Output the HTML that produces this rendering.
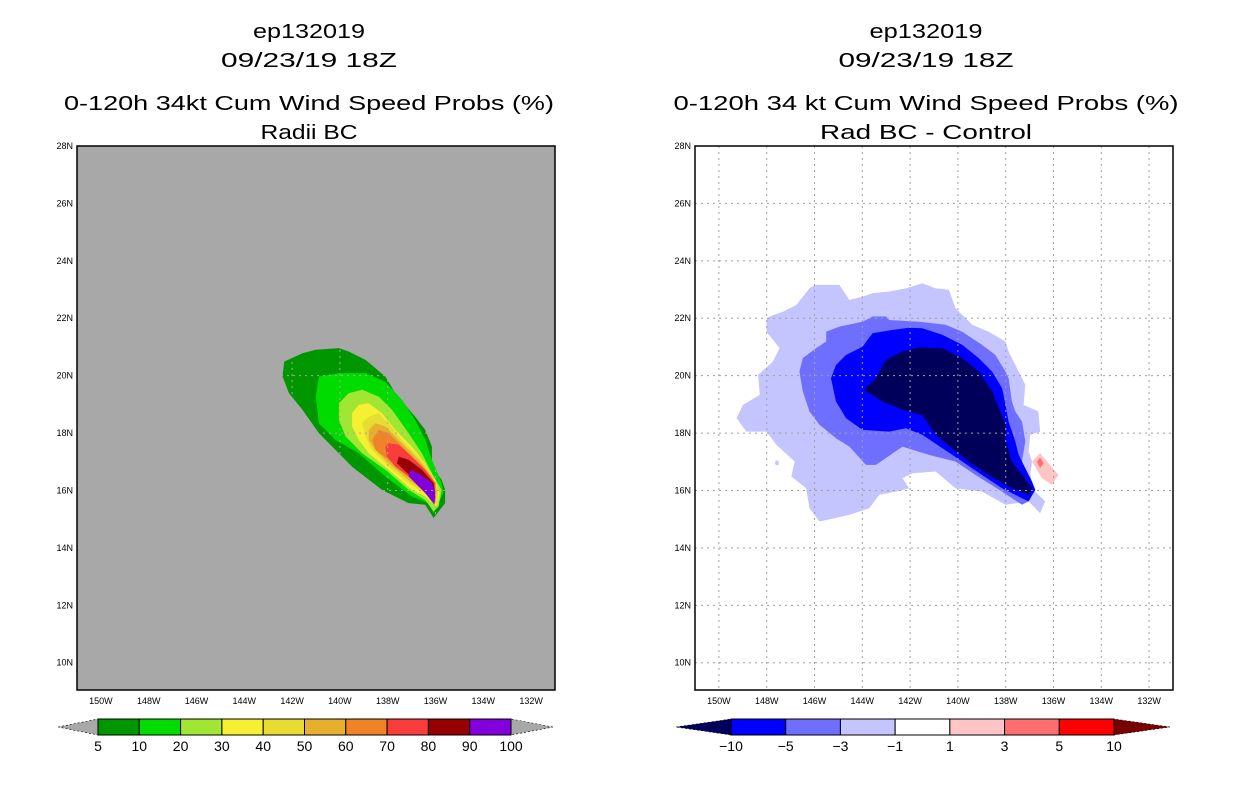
<!DOCTYPE html>
<html><head><meta charset="utf-8"><style>
html,body{margin:0;padding:0;background:#fff;}
svg{display:block;font-family:"Liberation Sans",sans-serif;}
</style></head><body>
<svg id="chart" width="1236" height="800" viewBox="0 0 1236 800" xmlns="http://www.w3.org/2000/svg"></svg>
<script>
// ---- data ----
const lonTicks=[-150,-148,-146,-144,-142,-140,-138,-136,-134,-132];
const lonTickLabels=["150W","148W","146W","144W","142W","140W","138W","136W","134W","132W"];
const latTicks=[10,12,14,16,18,20,22,24,26,28];
const latTickLabels=["10N","12N","14N","16N","18N","20N","22N","24N","26N","28N"];
const leftLevels=["5","10","20","30","40","50","60","70","80","90","100"];
const leftColors=["#009600","#00dc00","#a0e632","#f5f032","#e6dc32","#e6af2d","#f08228","#fa3c3c","#960000","#8200dc"];
const rightLevels=["\u221210","\u22125","\u22123","\u22121","1","3","5","10"];
const rightColors=["#00005a","#0000ff","#6e6eff","#c4c4ff","#ffffff","#ffc4c4","#ff6e6e","#ff0000","#780000"];
// left contours [lon,lat]
const p05=[[-142.33,20.49],[-141.57,20.78],[-141.01,20.90],[-140.04,20.96],[-139.63,20.84],[-138.93,20.55],[-138.10,19.97],[-137.68,19.39],[-136.85,18.57],[-136.43,18.11],[-136.15,17.53],[-136.15,16.83],[-135.74,16.37],[-135.60,16.02],[-135.60,15.56],[-136.08,15.04],[-136.43,15.50],[-137.13,15.56],[-138.24,16.02],[-139.49,16.83],[-140.88,18.00],[-141.57,18.81],[-142.13,19.39],[-142.40,19.97]];
const p10=[[-140.875,19.97],[-140.04,20.09],[-138.93,20.09],[-138.10,19.79],[-137.40,19.16],[-136.85,18.46],[-136.43,17.76],[-136.15,17.07],[-135.74,16.26],[-135.67,15.91],[-136.01,15.33],[-136.08,15.21],[-136.29,15.56],[-136.99,15.79],[-138.10,16.49],[-139.21,17.30],[-140.18,17.76],[-140.875,18.34],[-141.01,19.27]];
const p20=[[-140.04,19.04],[-139.63,19.39],[-139.07,19.51],[-138.375,19.27],[-137.82,18.81],[-137.125,18.00],[-136.57,17.30],[-136.15,16.60],[-135.74,16.02],[-135.875,15.44],[-136.08,15.27],[-136.43,15.67],[-137.125,16.02],[-138.10,16.72],[-139.07,17.30],[-139.76,17.88],[-140.04,18.46]];
const p30=[[-139.49,18.69],[-139.21,18.98],[-138.79,19.04],[-138.24,18.69],[-137.68,18.11],[-136.99,17.53],[-136.43,16.95],[-136.01,16.37],[-135.81,15.91],[-135.95,15.44],[-136.43,15.79],[-136.99,16.02],[-137.96,16.72],[-138.79,17.30],[-139.21,17.76],[-139.49,18.23]];
const p40=[[-139.07,18.34],[-138.79,18.57],[-138.375,18.69],[-137.96,18.34],[-137.40,17.76],[-136.71,17.18],[-136.15,16.60],[-135.875,16.02],[-135.95,15.50],[-136.43,15.91],[-137.125,16.26],[-137.96,16.83],[-138.65,17.41],[-138.93,17.88]];
const p50=[[-138.79,18.11],[-138.51,18.34],[-138.10,18.23],[-137.40,17.65],[-136.71,17.07],[-136.15,16.49],[-135.95,16.02],[-136.01,15.56],[-136.43,15.96],[-137.125,16.37],[-137.96,16.95],[-138.51,17.41],[-138.79,17.76]];
const p60=[[-138.65,17.76],[-138.375,18.11],[-137.96,18.00],[-137.26,17.41],[-136.57,16.83],[-136.01,16.26],[-136.01,15.67],[-136.43,16.02],[-137.125,16.49],[-137.96,17.07],[-138.51,17.41]];
const p70=[[-138.10,17.53],[-137.96,17.65],[-137.54,17.59],[-136.99,17.18],[-136.43,16.72],[-136.01,16.26],[-136.01,15.67],[-136.57,16.14],[-137.125,16.49],[-137.68,16.83],[-138.03,17.18]];
const p80=[[-137.54,17.18],[-137.125,17.07],[-136.57,16.72],[-136.08,16.26],[-136.01,15.79],[-136.43,16.02],[-136.85,16.37],[-137.26,16.66],[-137.61,16.95]];
const p90=[[-137.05,16.72],[-136.71,16.60],[-136.15,16.26],[-136.01,15.91],[-136.04,15.50],[-136.43,15.91],[-136.85,16.26],[-137.125,16.49]];
// right contours
const m1=[[-148.01,21.98],[-147.88,22.06],[-147.32,22.23],[-146.76,22.46],[-146.21,23.04],[-146.00,23.16],[-144.96,23.16],[-144.54,22.64],[-143.99,22.75],[-143.57,22.87],[-142.88,22.93],[-142.18,23.04],[-141.49,23.22],[-140.93,23.04],[-140.38,22.99],[-140.10,22.35],[-139.40,21.77],[-138.71,21.53],[-138.01,21.19],[-137.88,20.84],[-137.60,20.37],[-137.18,19.68],[-137.25,18.98],[-136.63,18.75],[-136.56,18.05],[-136.97,17.94],[-137.04,17.36],[-136.90,17.01],[-136.97,16.54],[-136.76,15.96],[-136.35,15.62],[-136.56,15.21],[-137.04,15.62],[-138.01,15.50],[-138.99,15.96],[-140.10,16.08],[-140.93,16.66],[-141.90,16.60],[-142.32,16.43],[-142.04,16.08],[-142.60,15.96],[-143.29,15.85],[-143.71,15.38],[-144.54,15.15],[-145.79,14.92],[-146.21,15.38],[-146.35,16.08],[-146.97,16.49],[-146.83,17.01],[-147.60,17.59],[-148.01,18.05],[-148.85,18.05],[-149.26,18.52],[-148.99,18.98],[-148.29,19.33],[-148.36,20.03],[-147.74,20.49],[-147.46,20.96],[-148.01,21.53]];
const m1b=[[-147.62,17.06],[-147.48,17.0],[-147.53,16.86],[-147.66,16.92]];
const m3=[[-146.63,20.14],[-146.49,20.61],[-145.93,20.96],[-145.51,21.19],[-145.51,21.53],[-144.96,21.71],[-143.99,21.88],[-143.57,22.06],[-143.01,22.06],[-142.88,21.94],[-141.63,21.88],[-140.51,21.77],[-139.82,21.53],[-138.99,21.07],[-138.43,20.72],[-138.01,20.14],[-137.88,19.91],[-137.74,19.10],[-137.60,18.75],[-137.32,18.40],[-137.18,17.71],[-137.32,17.01],[-136.90,16.08],[-137.04,15.62],[-137.32,15.50],[-138.15,15.96],[-139.26,16.54],[-140.10,17.01],[-141.21,17.24],[-142.32,17.53],[-143.43,16.89],[-143.85,16.89],[-144.54,17.53],[-145.10,17.82],[-145.79,18.29],[-146.21,18.75],[-146.49,19.45]];
const m5=[[-145.31,19.91],[-145.10,20.37],[-144.68,20.72],[-143.99,21.01],[-143.57,21.48],[-142.74,21.59],[-142.04,21.67],[-141.49,21.65],[-140.65,21.42],[-139.82,21.07],[-139.13,20.61],[-138.57,20.14],[-138.15,19.56],[-138.01,18.98],[-137.88,18.40],[-137.60,17.71],[-137.46,17.24],[-137.18,16.78],[-136.90,16.31],[-136.76,16.02],[-137.04,15.62],[-137.32,15.73],[-138.15,16.08],[-138.99,16.54],[-139.82,17.01],[-140.65,17.47],[-141.49,17.94],[-142.18,18.17],[-142.88,18.05],[-143.99,18.11],[-144.68,18.52],[-145.10,19.10]];
const m10=[[-143.92,19.50],[-143.43,19.91],[-143.01,20.55],[-142.32,20.84],[-141.63,20.98],[-140.65,20.95],[-139.82,20.61],[-139.13,20.14],[-138.57,19.45],[-138.29,18.87],[-138.01,18.29],[-138.01,17.71],[-137.74,17.01],[-137.32,16.54],[-136.90,16.08],[-137.04,15.85],[-137.74,16.08],[-138.71,16.54],[-139.54,17.01],[-140.24,17.47],[-140.93,17.94],[-141.49,18.63],[-142.32,18.81],[-143.15,19.10]];
const q1=[[-136.90,17.01],[-136.56,17.30],[-135.79,16.54],[-136.07,16.20],[-136.49,16.43]];
const q3=[[-136.69,17.01],[-136.56,17.15],[-136.42,16.95],[-136.56,16.78]];

const NS="http://www.w3.org/2000/svg";
const svg=document.getElementById('chart');
function el(tag,attrs,parent){const e=document.createElementNS(NS,tag);for(const k in attrs)e.setAttribute(k,attrs[k]);(parent||svg).appendChild(e);return e;}
function txt(s,attrs,parent){const t=el('text',attrs,parent);t.textContent=s;return t;}

const LON0=-151,LON1=-131,LAT0=9.05,LAT1=28;
function makePanel(x0,name){
  const W=478,H=544,y0=146;
  return {x0,y0,W,H,name,
    x:lon=>x0+(lon-LON0)/(LON1-LON0)*W,
    y:lat=>y0+(LAT1-lat)/(LAT1-LAT0)*H};
}
const L=makePanel(77,'left'),R=makePanel(695,'right');

function titles(cx,lines,names){
  const ys=[38,67,110,139];
  lines.forEach((s,i)=>{
    const t=txt(s[0],{x:cx,y:ys[i],'text-anchor':'middle','font-size':20,textLength:s[1],lengthAdjust:'spacingAndGlyphs',fill:'#000'});
    
    
  });
}
titles(309,[["ep132019",112],["09/23/19 18Z",176],["0-120h 34kt Cum Wind Speed Probs (%)",490],["Radii BC",97]],['left-storm-id','left-date','left-title','left-subtitle']);
titles(926,[["ep132019",113],["09/23/19 18Z",175],["0-120h 34 kt Cum Wind Speed Probs (%)",505],["Rad BC - Control",212]],['right-storm-id','right-date','right-title','right-subtitle']);

function drawPanel(P,bg,polys,gridColor){
  const g=el('g',{});
  
  
  const cid='clip-'+P.name;
  const cp=el('clipPath',{id:cid},el('defs',{},g));
  el('rect',{x:P.x0,y:P.y0,width:P.W,height:P.H},cp);
  const bgr=el('rect',{x:P.x0,y:P.y0,width:P.W,height:P.H,fill:bg},g);
  
  
  const cg=el('g',{'clip-path':'url(#'+cid+')'},g);
  polys.forEach(([pts,col,nm])=>{
    const p=el('polygon',{points:pts.map(q=>P.x(q[0]).toFixed(1)+','+P.y(q[1]).toFixed(1)).join(' '),fill:col},cg);
    
    
  });
  lonTicks.forEach((lon,i)=>{
    const ln=el('line',{x1:P.x(lon),x2:P.x(lon),y1:P.y0,y2:P.y0+P.H,stroke:gridColor,'stroke-width':1,'stroke-dasharray':'2,4'},cg);
    
    
    const t=txt(lonTickLabels[i],{x:P.x(lon),y:P.y0+P.H+14,'text-anchor':'middle','font-size':9,fill:'#000'},g);
    
    
  });
  latTicks.forEach((lat,i)=>{
    const ln=el('line',{x1:P.x0,x2:P.x0+P.W,y1:P.y(lat),y2:P.y(lat),stroke:gridColor,'stroke-width':1,'stroke-dasharray':'2,4'},cg);
    
    
    const t=txt(latTickLabels[i],{x:P.x0-4,y:P.y(lat)+3,'text-anchor':'end','font-size':9,fill:'#000'},g);
    
    
  });
  const fr=el('rect',{x:P.x0,y:P.y0,width:P.W,height:P.H,fill:'none',stroke:'#000','stroke-width':1.5},g);
  
  
}
drawPanel(L,'#a8a8a8',[[p05,leftColors[0],'contour-5'],[p10,leftColors[1],'contour-10'],[p20,leftColors[2],'contour-20'],[p30,leftColors[3],'contour-30'],[p40,leftColors[4],'contour-40'],[p50,leftColors[5],'contour-50'],[p60,leftColors[6],'contour-60'],[p70,leftColors[7],'contour-70'],[p80,leftColors[8],'contour-80'],[p90,leftColors[9],'contour-90']],'#a8a8a8');
drawPanel(R,'#ffffff',[[m1,rightColors[3],'contour-neg1'],[m1b,rightColors[3],'contour-neg1-speck'],[m3,rightColors[2],'contour-neg3'],[m5,rightColors[1],'contour-neg5'],[m10,rightColors[0],'contour-neg10'],[q1,rightColors[5],'contour-pos1'],[q3,rightColors[6],'contour-pos3']],'#a0a0a0');

// colorbars
function colorbar(x0,x1,bx0,bx1,colors,labels,leftArrow,rightArrow,name,labelOffset){
  const g=el('g',{});
  
  
  const yt=719,yb=735,ym=727;
  const a1=el('polygon',{points:`${x0},${ym} ${bx0},${yt} ${bx0},${yb}`,fill:leftArrow,stroke:'#000','stroke-width':0.6,'stroke-dasharray':'2,2'},g);
  
  const a2=el('polygon',{points:`${x1},${ym} ${bx1},${yt} ${bx1},${yb}`,fill:rightArrow,stroke:'#000','stroke-width':0.6,'stroke-dasharray':'2,2'},g);
  
  const n=colors.length,w=(bx1-bx0)/n;
  colors.forEach((c,i)=>{
    const r=el('rect',{x:bx0+i*w,y:yt,width:w,height:yb-yt,fill:c,stroke:'#000','stroke-width':1},g);
    
    
  });
  labels.forEach((s,i)=>{
    const t=txt(s,{x:bx0+(i+labelOffset)*w,y:751,'text-anchor':'middle','font-size':14,fill:'#000'},g);
    
    
  });
}
colorbar(58,553,98,511,leftColors,leftLevels,'#a8a8a8','#a8a8a8','left-colorbar',0);
colorbar(676,1170,731,1114,rightColors.slice(1,8),rightLevels,rightColors[0],rightColors[8],'right-colorbar',0);
</script>
</body></html>
